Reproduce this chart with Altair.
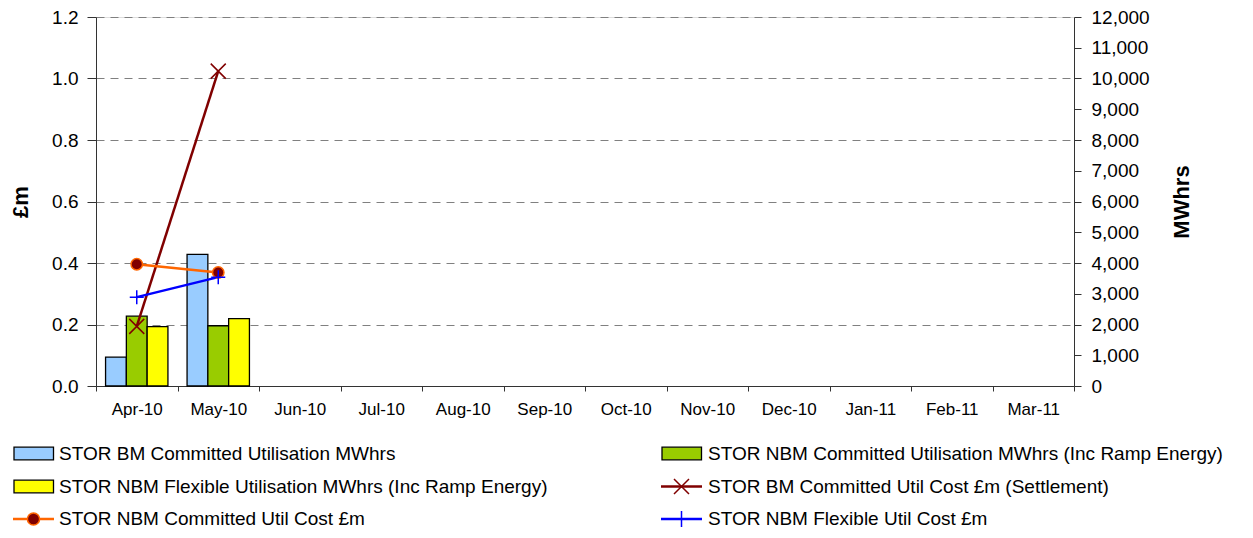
import altair as alt
import pandas as pd

# ---------------- data ----------------
months = ["Apr-10", "May-10", "Jun-10", "Jul-10", "Aug-10", "Sep-10",
          "Oct-10", "Nov-10", "Dec-10", "Jan-11", "Feb-11", "Mar-11"]

bar_series = ["STOR BM Committed Utilisation MWhrs",
              "STOR NBM Committed Utilisation MWhrs (Inc Ramp Energy)",
              "STOR NBM Flexible Utilisation MWhrs (Inc Ramp Energy)"]
line_series = ["STOR BM Committed Util Cost £m (Settlement)",
               "STOR NBM Committed Util Cost £m",
               "STOR NBM Flexible Util Cost £m"]

data_months = ["Apr-10", "May-10"]
bm_committed_mwh = [940, 4280]
nbm_committed_mwh = [2270, 1960]
nbm_flexible_mwh = [1930, 2190]

bm_committed_cost = [0.194, 1.024]
nbm_committed_cost = [0.396, 0.369]
nbm_flexible_cost = [0.289, 0.354]

left_ticks = [0, 0.2, 0.4, 0.6, 0.8, 1.0, 1.2]
right_ticks = [0, 1000, 2000, 3000, 4000, 5000, 6000, 7000, 8000, 9000,
               10000, 11000, 12000]

colors = ["#99CCFF", "#99CC00", "#FFFF00", "#800000", "#FF6600", "#0000FF"]

# ---------------- tables ----------------
bar_rows = []
for s, vals in zip(bar_series, [bm_committed_mwh, nbm_committed_mwh, nbm_flexible_mwh]):
    for m, v in zip(data_months, vals):
        bar_rows.append({"month": m, "series": s, "mwh": v})
bars_df = pd.DataFrame(bar_rows)

line_rows = []
for s, vals in zip(line_series, [bm_committed_cost, nbm_committed_cost, nbm_flexible_cost]):
    for m, v in zip(data_months, vals):
        line_rows.append({"month": m, "series": s, "cost": v})
lines_df = pd.DataFrame(line_rows)

all_series = bar_series + line_series
color_scale = alt.Scale(domain=all_series, range=colors)

FONT = "Liberation Sans"
X_SHAPE = "M-1,-1L1,1M-1,1L1,-1"
PLUS_SHAPE = "M-1,0H1M0,-1V1"

x_enc = alt.X("month:N", scale=alt.Scale(domain=months, paddingInner=0, paddingOuter=0),
              sort=months,
              axis=alt.Axis(title=None, labelAngle=0, tickBand="extent", tickSize=5,
                            labelPadding=10, labelFontSize=17, labelFont=FONT,
                            labelColor="#000000", domainColor="#333333",
                            tickColor="#333333", grid=False))

bars = alt.Chart(bars_df).mark_bar(stroke="#000000", strokeWidth=1.3).encode(
    x=x_enc,
    xOffset=alt.XOffset("series:N", scale=alt.Scale(domain=bar_series, paddingOuter=0.46, paddingInner=0)),
    y=alt.Y("mwh:Q", scale=alt.Scale(domain=[0, 12000], nice=False),
            axis=alt.Axis(orient="right", values=right_ticks, format=",.0f", title="MWhrs",
                          titleAngle=270, titleBaseline="top", titleFontSize=22,
                          titleFontWeight="bold", titleFont=FONT, titlePadding=22,
                          labelFontSize=19, labelFont=FONT, labelColor="#000000",
                          tickSize=7, labelPadding=10, grid=False,
                          domainColor="#333333", tickColor="#333333")),
    color=alt.Color("series:N", scale=color_scale, legend=None),
)

lines = alt.Chart(lines_df).mark_line(strokeWidth=2.5).encode(
    x=x_enc,
    y=alt.Y("cost:Q", scale=alt.Scale(domain=[0, 1.2], nice=False),
            axis=alt.Axis(orient="left", values=left_ticks, format=".1f", title="£m",
                          titleAngle=270, titleFontSize=22, titleFontWeight="bold",
                          titleFont=FONT, titlePadding=19,
                          labelFontSize=19, labelFont=FONT, labelColor="#000000",
                          tickSize=9, labelPadding=9, grid=True, gridDash=[8, 6],
                          gridColor="#808080", gridWidth=1,
                          domainColor="#333333", tickColor="#333333")),
    color=alt.Color("series:N", scale=color_scale, legend=None),
)

y_plain = alt.Y("cost:Q")

pts_bm = alt.Chart(lines_df).transform_filter(
    alt.datum.series == line_series[0]
).mark_point(shape=X_SHAPE, size=225, filled=False,
             stroke="#800000", strokeWidth=1.5, opacity=1).encode(x=x_enc, y=y_plain)

pts_nbm = alt.Chart(lines_df).transform_filter(
    alt.datum.series == line_series[1]
).mark_point(shape="circle", size=130, filled=True, fill="#800000",
             stroke="#FF6600", strokeWidth=1.5, opacity=1).encode(x=x_enc, y=y_plain)

pts_flex = alt.Chart(lines_df).transform_filter(
    alt.datum.series == line_series[2]
).mark_point(shape=PLUS_SHAPE, size=196, filled=False,
             stroke="#0000FF", strokeWidth=1.5, opacity=1).encode(x=x_enc, y=y_plain)

cost_layer = alt.layer(lines, pts_bm, pts_nbm, pts_flex)

# ---------------- legend (two columns, three rows, below the plot) ----------------
col_symbol_x = [-82, 566]
col_text_x = [-37, 612]
row_y = [436.5, 469.5, 502]

legend_layers = []
for i, name in enumerate(all_series):
    col, row = i % 2, i // 2
    sx, cy = col_symbol_x[col], row_y[row]
    one = pd.DataFrame({"label": [name]})
    base = alt.Chart(one)
    if i < 3:
        legend_layers.append(base.mark_rect(fill=colors[i], stroke="#000000", strokeWidth=1.3).encode(
            x=alt.value(sx), x2=alt.value(sx + 39.5), y=alt.value(cy - 6.3), y2=alt.value(cy + 6.3)))
    else:
        legend_layers.append(base.mark_rule(stroke=colors[i], strokeWidth=2.5).encode(
            x=alt.value(sx - 1), x2=alt.value(sx + 40), y=alt.value(cy)))
        if i == 3:
            mk = base.mark_point(shape=X_SHAPE, size=225, filled=False, stroke="#800000",
                                 strokeWidth=1.5, opacity=1)
        elif i == 4:
            mk = base.mark_point(shape="circle", size=150, filled=True, fill="#800000",
                                 stroke="#FF6600", strokeWidth=1.5, opacity=1)
        else:
            mk = base.mark_point(shape=PLUS_SHAPE, size=256, filled=False, stroke="#0000FF",
                                 strokeWidth=1.5, opacity=1)
        legend_layers.append(mk.encode(x=alt.value(sx + 19.5), y=alt.value(cy)))
    legend_layers.append(base.mark_text(align="left", baseline="middle", fontSize=19,
                                        font=FONT, color="#000000").encode(
        x=alt.value(col_text_x[col]), y=alt.value(cy), text="label:N"))

chart = alt.layer(bars, cost_layer, *legend_layers).resolve_scale(y="independent").properties(
    width=978, height=369,
    autosize=alt.AutoSizeParams(type="none"),
    padding={"left": 88, "top": 9, "right": 171, "bottom": 144},
    background="white",
).configure_view(stroke=None).configure(font=FONT)

chart.save("out.html", embed_options={"renderer": "svg", "actions": False})
